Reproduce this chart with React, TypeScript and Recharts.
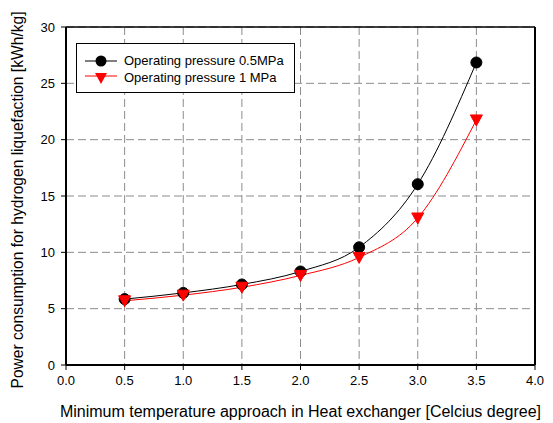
import { LineChart, Line, XAxis, YAxis, CartesianGrid, ReferenceLine } from 'recharts';

const approach = [0.5, 1.0, 1.5, 2.0, 2.5, 3.0, 3.5];
const power05MPa = [5.85, 6.4, 7.15, 8.3, 10.45, 16.05, 26.85];
const power1MPa = [5.7, 6.2, 6.9, 7.95, 9.55, 13.05, 21.75];
const xTicks = [0, 0.5, 1.0, 1.5, 2.0, 2.5, 3.0, 3.5, 4.0];
const yTicks = [0, 5, 10, 15, 20, 25, 30];

const data = approach.map((x, i) => ({ x, p05: power05MPa[i], p1: power1MPa[i] }));

const font = '"Liberation Sans", Arial, sans-serif';

const CircleDot = (props: any) => {
  const { cx, cy } = props;
  if (cx == null || cy == null) return null;
  return <circle cx={cx} cy={cy} r={5.5} fill="#000" stroke="#000" />;
};

const TriangleDot = (props: any) => {
  const { cx, cy } = props;
  if (cx == null || cy == null) return null;
  return <path d={`M${cx - 6},${cy - 5} L${cx + 6},${cy - 5} L${cx},${cy + 6} Z`} fill="#ff0000" stroke="#ff0000" />;
};

const LegendBox = () => (
  <div style={{ position: 'absolute', left: 76, top: 43, border: '1px solid #000', background: '#fff', width: 219, height: 50, boxSizing: 'border-box', padding: '8px 0 0 8px', fontFamily: font, fontSize: 13, color: '#000' }}>
    <div style={{ display: 'flex', alignItems: 'center', height: 17 }}>
      <svg width={32} height={14}>
        <line x1={0} y1={7} x2={32} y2={7} stroke="#000" />
        <circle cx={16} cy={7} r={5.5} fill="#000" />
      </svg>
      <span style={{ marginLeft: 7 }}>Operating pressure 0.5MPa</span>
    </div>
    <div style={{ display: 'flex', alignItems: 'center', height: 17 }}>
      <svg width={32} height={14}>
        <line x1={0} y1={5} x2={32} y2={5} stroke="#ff0000" />
        <path d="M10,2 L22,2 L16,13 Z" fill="#ff0000" />
      </svg>
      <span style={{ marginLeft: 7 }}>Operating pressure 1 MPa</span>
    </div>
  </div>
);

export default function App() {
  return (
    <div style={{ position: 'relative', width: 553, height: 423, background: '#fff' }}>
      <style>{`body{margin:0;background:#fff}`}</style>
      <LineChart width={553} height={423} data={data} margin={{ top: 27, right: 18, bottom: 0, left: 0 }}>
        <CartesianGrid stroke="#8c8c8c" strokeDasharray="8 4" />
        <XAxis
          dataKey="x"
          type="number"
          domain={[0, 4]}
          ticks={xTicks}
          tickFormatter={(v) => v.toFixed(1)}
          height={58}
          tickSize={5}
          tickMargin={6}
          axisLine={{ stroke: '#000', strokeWidth: 2 }}
          tickLine={{ stroke: '#000' }}
          tick={{ fill: '#000', fontSize: 13, fontFamily: font }}
          label={{ value: 'Minimum temperature approach in Heat exchanger [Celcius degree]', position: 'insideBottom', offset: 6, style: { fill: '#000', fontSize: 16, fontFamily: font } }}
        />
        <YAxis
          type="number"
          domain={[0, 30]}
          ticks={yTicks}
          width={66}
          tickSize={5}
          tickMargin={6}
          axisLine={{ stroke: '#000', strokeWidth: 2 }}
          tickLine={{ stroke: '#000' }}
          tick={{ fill: '#000', fontSize: 13, fontFamily: font }}
          label={{ value: 'Power consumption for hydrogen liquefaction [kWh/kg]', angle: -90, position: 'insideLeft', offset: 17, dy: 4, style: { textAnchor: 'middle', fill: '#000', fontSize: 15.6, fontFamily: font } }}
        />
        <ReferenceLine y={30} stroke="#000" strokeWidth={1.5} />
        <ReferenceLine x={4} stroke="#000" strokeWidth={2} />
        <Line type="monotone" dataKey="p05" stroke="#000" strokeWidth={1} dot={<CircleDot />} isAnimationActive={false} />
        <Line type="monotone" dataKey="p1" stroke="#ff0000" strokeWidth={1} dot={<TriangleDot />} isAnimationActive={false} />
      </LineChart>
      <LegendBox />
    </div>
  );
}
